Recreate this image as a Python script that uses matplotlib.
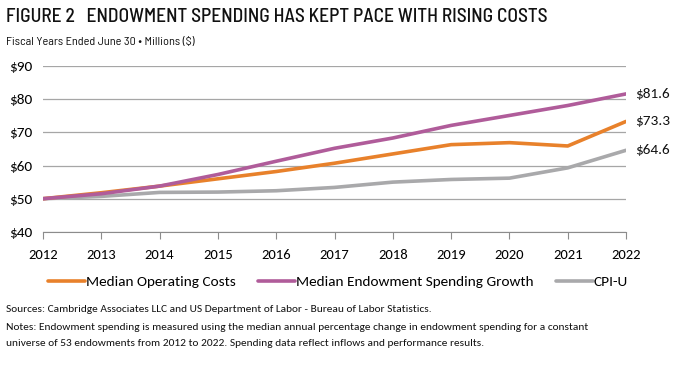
import numpy as np
import matplotlib.pyplot as plt

years = [2012, 2013, 2014, 2015, 2016, 2017, 2018, 2019, 2020, 2021, 2022]
op_costs = [50.0, 51.8, 53.8, 56.0, 58.2, 60.7, 63.5, 66.3, 66.9, 65.9, 73.3]
spending = [50.0, 51.5, 53.8, 57.3, 61.3, 65.2, 68.3, 72.1, 75.1, 78.1, 81.6]
cpi_u = [50.0, 50.7, 51.9, 52.0, 52.4, 53.4, 55.0, 55.8, 56.2, 59.3, 64.6]
names = ["Median Operating Costs", "Median Endowment Spending Growth", "CPI-U"]
colors = ["#E8812B", "#B05C9A", "#A9A9AB"]

plt.rcParams['font.family'] = ['Carlito', 'Lato', 'DejaVu Sans']
head_font = ['Barlow Semi Condensed', 'Lato', 'DejaVu Sans']

fig = plt.figure(figsize=(6.76, 3.71), dpi=100)
ax = fig.add_axes([0.0636, 0.375, 0.8625, 0.447])

series = [op_costs, spending, cpi_u]
# grey first so the others sit on top
for i in [2, 0, 1]:
    ax.plot(years, series[i], color=colors[i], lw=2.6, label=names[i],
            solid_capstyle='round')
    ax.text(years[-1] + 0.15, series[i][-1], "$%.1f" % series[i][-1],
            va='center', ha='left', fontsize=11, color='#111111')

ax.set_xlim(2012, 2022)
ax.set_ylim(40, 90)
ax.set_yticks([40, 50, 60, 70, 80, 90])
ax.set_yticklabels(["$%d" % v for v in [40, 50, 60, 70, 80, 90]], fontsize=11)
ax.set_xticks(years)
ax.set_xticklabels([str(y) for y in years], fontsize=10.5)
ax.grid(axis='y', color='#A6A6A6', lw=0.9)
ax.set_axisbelow(True)
for s in ['top', 'right', 'left']:
    ax.spines[s].set_visible(False)
ax.spines['bottom'].set_color('#8C8C8C')
ax.tick_params(axis='x', direction='out', length=5, color='#8C8C8C', pad=7)
ax.tick_params(axis='y', length=0, pad=8)

h, l = ax.get_legend_handles_labels()
order = [1, 2, 0]
fig.legend([h[k] for k in order], [l[k] for k in order], ncol=3,
           loc='center', bbox_to_anchor=(0.5, 0.24), frameon=False,
           fontsize=11, handlelength=2.4, handletextpad=0.05, columnspacing=1.5)

fig.text(0.009, 0.955, "FIGURE 2   ENDOWMENT SPENDING HAS KEPT PACE WITH RISING COSTS",
         fontsize=14, va='center', ha='left', color='#111111', family=head_font,
         weight='medium')
fig.text(0.009, 0.887, "Fiscal Years Ended June 30 \u2022 Millions ($)",
         fontsize=8.8, va='center', ha='left', color='#111111', family=head_font)
fig.text(0.009, 0.167, "Sources: Cambridge Associates LLC and US Department of Labor - Bureau of Labor Statistics.",
         fontsize=8.2, va='center', ha='left', color='#111111')
fig.text(0.009, 0.118, "Notes: Endowment spending is measured using the median annual percentage change in endowment spending for a constant",
         fontsize=8.2, va='center', ha='left', color='#111111')
fig.text(0.009, 0.075, "universe of 53 endowments from 2012 to 2022. Spending data reflect inflows and performance results.",
         fontsize=8.2, va='center', ha='left', color='#111111')

fig.savefig("out.png", dpi=100)
